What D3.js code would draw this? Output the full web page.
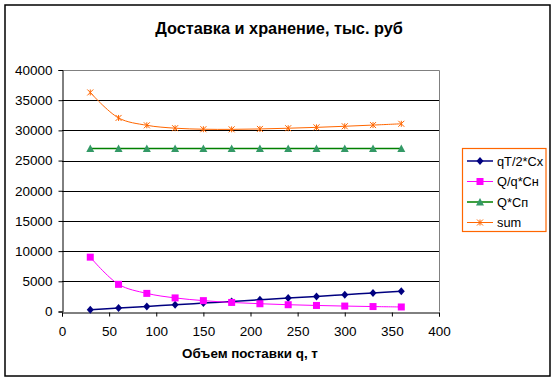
<!DOCTYPE html>
<html><head><meta charset="utf-8">
<script src="https://cdn.jsdelivr.net/npm/d3@7"></script>
<style>body{margin:0;background:#fff}svg text{font-family:Arial,"Liberation Sans",sans-serif}</style>
</head><body>
<svg id="c" width="557" height="382"></svg>
<script>
const qValues = [30,60,90,120,150,180,210,240,270,300,330,360];
const storage = [280,560,840,1110,1390,1670,1950,2230,2500,2780,3060,3340];
const ordering = [9000,4500,3000,2250,1800,1500,1286,1125,1000,900,818,750];
const purchase = [27000,27000,27000,27000,27000,27000,27000,27000,27000,27000,27000,27000];
const total = [36280,32060,30840,30360,30190,30170,30236,30355,30500,30680,30878,31090];
const seriesNames = ["qT/2*Cx","Q/q*Cн","Q*Cп","sum"];
const xTicks = [0,50,100,150,200,250,300,350,400];
const yTicks = [0,5000,10000,15000,20000,25000,30000,35000,40000];
const titleText = "Доставка и хранение, тыс. руб";
const xTitle = "Объем поставки q, т";

const svg = d3.select("#c");
svg.append("rect").attr("x",5).attr("y",5).attr("width",545).attr("height",371)
  .attr("fill","#fff").attr("stroke","#000").attr("stroke-width",1.5);

const L=62,R=439,T=70,B=311.5;
const x = d3.scaleLinear().domain([0,400]).range([L,R]);
const y = d3.scaleLinear().domain([0,40000]).range([B,T]);

svg.append("text").attr("x",279).attr("y",34).attr("text-anchor","middle")
  .attr("font-size",16.3).attr("font-weight","bold").text(titleText);

// grid
svg.append("g").selectAll("line").data(yTicks.filter(v=>v>0 && v<40000)).join("line")
  .attr("x1",L).attr("x2",R).attr("y1",d=>Math.round(y(d))+0.5).attr("y2",d=>Math.round(y(d))+0.5)
  .attr("stroke","#000").attr("stroke-width",1);
// top & right border gray
svg.append("path").attr("d",`M${L},${Math.round(T)+0.5}H${R+0.5}V${B}`).attr("fill","none").attr("stroke","#808080");

// axes
const ax = svg.append("g").attr("transform",`translate(0,${Math.round(B)+0.5})`)
  .call(d3.axisBottom(x).tickValues(xTicks).tickSize(4).tickFormat(d3.format("d")));
const ay = svg.append("g").attr("transform",`translate(${L+0.5},0)`)
  .call(d3.axisLeft(y).tickValues(yTicks).tickSize(4).tickFormat(d3.format("d")));
[ax,ay].forEach(g=>{
  g.select(".domain").attr("stroke","#000");
  g.selectAll(".tick line").attr("stroke","#000");
  g.selectAll(".tick text").attr("font-size",13.5).attr("font-family","Arial, Liberation Sans, sans-serif").attr("fill","#000");
});
ax.selectAll(".tick text").attr("y",0).attr("dy",0).attr("transform","translate(0,23)");
ay.selectAll(".tick text").attr("x",-10);

svg.append("text").attr("x",250).attr("y",358).attr("text-anchor","middle")
  .attr("font-size",13.4).attr("font-weight","bold").text(xTitle);

const series = [
  {name:seriesNames[0], vals:storage, line:"#000080", mark:"#000080", sym:"diamond", w:1.5},
  {name:seriesNames[1], vals:ordering, line:"#FF00FF", mark:"#FF00FF", sym:"square", w:1},
  {name:seriesNames[2], vals:purchase, line:"#008000", mark:"#339966", sym:"triangle", w:1.5},
  {name:seriesNames[3], vals:total, line:"#FF6600", mark:"#FF6600", sym:"star", w:1}
];

function marker(g, sym, color, cx, cy){
  if(sym==="diamond"){
    g.append("path").attr("d",`M${cx},${cy-4}L${cx+3.5},${cy}L${cx},${cy+4}L${cx-3.5},${cy}Z`).attr("fill",color);
  } else if(sym==="square"){
    g.append("rect").attr("x",cx-3.5).attr("y",cy-3.5).attr("width",7).attr("height",7).attr("fill",color);
  } else if(sym==="triangle"){
    g.append("path").attr("d",`M${cx},${cy-4}L${cx+4},${cy+3.5}L${cx-4},${cy+3.5}Z`).attr("fill",color);
  } else {
    g.append("path").attr("d",`M${cx-3},${cy-3}L${cx+3},${cy+3}M${cx-3},${cy+3}L${cx+3},${cy-3}M${cx},${cy-3}V${cy+3}`)
      .attr("stroke",color).attr("stroke-width",1).attr("fill","none");
  }
}

const line = d3.line().x((d,i)=>x(qValues[i])).y(d=>y(d)).curve(d3.curveCatmullRom.alpha(0.5));
series.forEach(s=>{
  svg.append("path").datum(s.vals).attr("d",line).attr("fill","none").attr("stroke",s.line).attr("stroke-width",s.w);
  const g = svg.append("g");
  s.vals.forEach((v,i)=>marker(g,s.sym,s.mark,x(qValues[i]),y(v)));
});

// legend
const lg = svg.append("g");
lg.append("rect").attr("x",462.5).attr("y",148.5).attr("width",83.5).attr("height",83)
  .attr("fill","#fff").attr("stroke","#FF6600").attr("stroke-width",1.2);
const ly = [161,181.5,202,222.5];
series.forEach((s,i)=>{
  lg.append("line").attr("x1",467).attr("x2",493).attr("y1",ly[i]).attr("y2",ly[i]).attr("stroke",s.line).attr("stroke-width",s.w);
  marker(lg,s.sym,s.mark,480,ly[i]);
  lg.append("text").attr("x",497).attr("y",ly[i]+4.5).attr("font-size",12.8).text(s.name);
});
</script>
</body></html>
